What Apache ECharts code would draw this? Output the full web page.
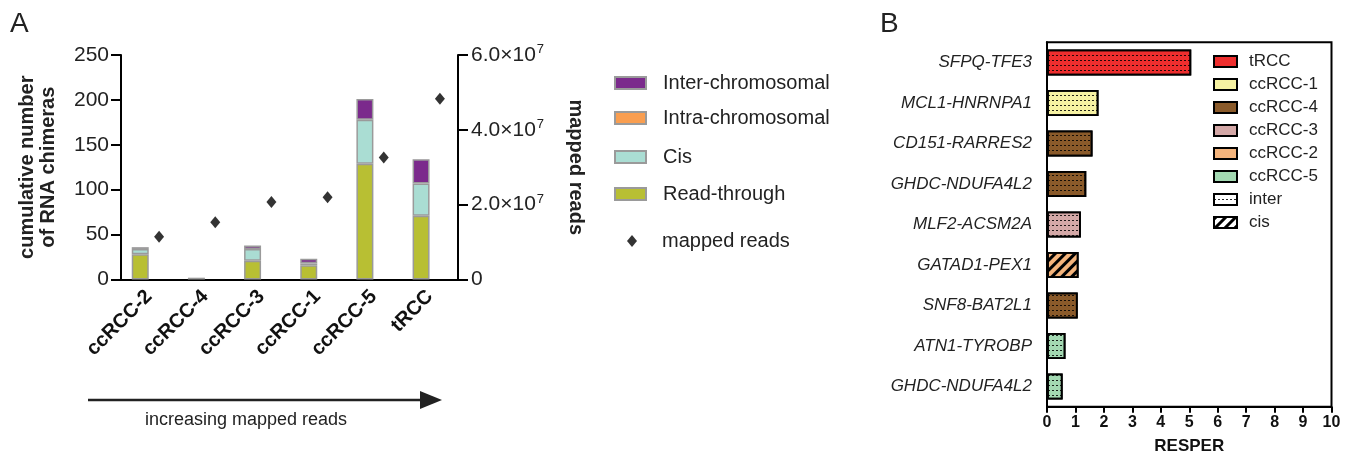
<!DOCTYPE html>
<html>
<head>
<meta charset="utf-8">
<script src="https://cdn.jsdelivr.net/npm/echarts@6/dist/echarts.min.js"></script>
<style>html,body{margin:0;padding:0;background:#fff}#c{width:1346px;height:452px}</style>
</head>
<body>
<div id="c"></div>
<script>
// ---------- Panel A data ----------
const samplesA = ['ccRCC-2', 'ccRCC-4', 'ccRCC-3', 'ccRCC-1', 'ccRCC-5', 'tRCC'];
const readThrough = [28, 0, 21, 16, 129, 71];
const cisA = [6, 2, 13, 2, 49, 36];
const intraA = [0, 0, 0, 0, 0, 0];
const interA = [2, 0, 4, 5, 23, 27];
const mappedReads = [1.14e7, 1.53e7, 2.07e7, 2.20e7, 3.26e7, 4.83e7];
const leftTicks = [0, 50, 100, 150, 200, 250];
const rightTickMantissa = ['0', '2.0', '4.0', '6.0'];

// ---------- Panel B data ----------
const genes = ['SFPQ-TFE3', 'MCL1-HNRNPA1', 'CD151-RARRES2', 'GHDC-NDUFA4L2', 'MLF2-ACSM2A',
  'GATAD1-PEX1', 'SNF8-BAT2L1', 'ATN1-TYROBP', 'GHDC-NDUFA4L2'];
const resper = [5.07, 1.81, 1.60, 1.38, 1.19, 1.11, 1.08, 0.65, 0.55];
const geneSample = ['tRCC', 'ccRCC-1', 'ccRCC-4', 'ccRCC-4', 'ccRCC-3', 'ccRCC-2', 'ccRCC-4', 'ccRCC-5', 'ccRCC-5'];
const geneType = ['inter', 'inter', 'inter', 'inter', 'inter', 'cis', 'inter', 'inter', 'inter'];
const samplesB = ['tRCC', 'ccRCC-1', 'ccRCC-4', 'ccRCC-3', 'ccRCC-2', 'ccRCC-5'];
const typesB = ['inter', 'cis'];
const resperTicks = [0, 1, 2, 3, 4, 5, 6, 7, 8, 9, 10];

// ---------- styles ----------
const FONT = 'Liberation Sans, Arial, sans-serif';
const colA = { 'Inter-chromosomal': '#7B2A8C', 'Intra-chromosomal': '#F99E50', 'Cis': '#AADDD3', 'Read-through': '#B8BF33' };
const colB = { 'tRCC': '#EE2E2E', 'ccRCC-1': '#F6F2A2', 'ccRCC-4': '#8A5A2A', 'ccRCC-3': '#D4A8A7', 'ccRCC-2': '#F4B47C', 'ccRCC-5': '#A3D9B2' };
const decals = {
  inter: { symbol: 'rect', symbolSize: 1, dashArrayX: [2, 2], dashArrayY: [1, 4], color: 'rgba(0,0,0,0.85)', backgroundColor: null },
  cis: { symbol: 'rect', symbolSize: 1, dashArrayX: [1, 0], dashArrayY: [3, 4], rotation: -Math.PI / 4, color: '#000', backgroundColor: null }
};
const nz = a => a.map(v => (v === 0 ? null : v));

const chart = echarts.init(document.getElementById('c'), null, { renderer: 'canvas' });

const stackDefsA = [
  ['Read-through', readThrough],
  ['Cis', cisA],
  ['Intra-chromosomal', intraA],
  ['Inter-chromosomal', interA]
];

const seriesA = stackDefsA.map(([name, arr]) => ({
  name, type: 'bar', stack: 'chimeras', xAxisIndex: 0, yAxisIndex: 0,
  barWidth: 17, barGap: '4%',
  itemStyle: { color: colA[name], borderColor: '#9A9A9A', borderWidth: 1.5 },
  data: nz(arr)
}));
// empty companion slot so the stacks sit left of the tick, as in the figure
seriesA.push({ name: '_slot', type: 'bar', stack: 'slot', xAxisIndex: 0, yAxisIndex: 0, barWidth: 17, data: samplesA.map(() => null) });
seriesA.push({
  name: 'mapped reads', type: 'scatter', xAxisIndex: 0, yAxisIndex: 1,
  symbol: 'diamond', symbolSize: [10, 12], symbolOffset: [10, 0],
  itemStyle: { color: '#000' }, data: mappedReads
});

const seriesB = samplesB.map(s => ({
  name: s, type: 'bar', stack: 'resper', xAxisIndex: 1, yAxisIndex: 2, barWidth: 26,
  itemStyle: { color: colB[s], borderColor: '#000', borderWidth: 1.8 },
  data: resper.map((v, i) => geneSample[i] === s
    ? { value: v, itemStyle: { decal: decals[geneType[i]] } } : null)
}));
typesB.forEach(t => seriesB.push({
  name: t, type: 'bar', stack: 'resper', xAxisIndex: 1, yAxisIndex: 2, barWidth: 26,
  itemStyle: { color: '#fff', borderColor: '#000', borderWidth: 1.8, decal: decals[t] },
  data: genes.map(() => null)
}));

const legA = (name, top, extra) => Object.assign({
  orient: 'vertical', left: 614, top: top, data: [name], padding: 0,
  itemWidth: 31, itemHeight: 12, icon: 'rect', selectedMode: false,
  textStyle: { fontFamily: FONT, fontSize: 20, color: '#222', lineHeight: 22, padding: [0, 0, 0, 12] }
}, extra || {});

const option = {
  animation: false,
  backgroundColor: '#fff',
  grid: [
    { left: 121, right: 888, top: 55, bottom: 172.5, outerBoundsMode: 'none', containLabel: false },
    { left: 1047, right: 14.5, top: 42.3, bottom: 45.3, outerBoundsMode: 'none', containLabel: false,
      show: true, borderColor: '#000', borderWidth: 2 }
  ],
  xAxis: [
    {
      type: 'category', gridIndex: 0, data: samplesA, boundaryGap: true,
      axisLine: { lineStyle: { color: '#000', width: 2 } },
      axisTick: { alignWithLabel: true, length: 8, lineStyle: { width: 2, color: '#000' } },
      axisLabel: { rotate: 45, margin: 14, color: '#111', fontFamily: FONT, fontWeight: 'bold', fontSize: 20, interval: 0 }
    },
    {
      type: 'value', gridIndex: 1, min: resperTicks[0], max: resperTicks[resperTicks.length - 1], interval: 1,
      splitLine: { show: false },
      axisLine: { show: true, lineStyle: { color: '#000', width: 2 } },
      axisTick: { show: true, length: 6, lineStyle: { width: 2, color: '#000' } },
      axisLabel: { margin: 8, color: '#111', fontFamily: FONT, fontWeight: 'bold', fontSize: 16 },
      name: 'RESPER', nameLocation: 'middle', nameGap: 31,
      nameTextStyle: { fontFamily: FONT, fontWeight: 'bold', fontSize: 17, color: '#111' }
    }
  ],
  yAxis: [
    {
      type: 'value', gridIndex: 0, min: leftTicks[0], max: leftTicks[leftTicks.length - 1], interval: 50,
      splitLine: { show: false },
      axisLine: { show: true, lineStyle: { color: '#000', width: 2 } },
      axisTick: { show: true, length: 10, lineStyle: { width: 2, color: '#000' } },
      axisLabel: { margin: 12, color: '#222', fontFamily: FONT, fontSize: 21 },
      name: 'cumulative number\nof RNA chimeras', nameLocation: 'middle', nameGap: 62, nameRotate: 90,
      nameTextStyle: { fontFamily: FONT, fontWeight: 'bold', fontSize: 20, lineHeight: 21, color: '#222' }
    },
    {
      type: 'value', gridIndex: 0, position: 'right', min: 0, max: 6e7, interval: 2e7,
      splitLine: { show: false },
      axisLine: { show: true, lineStyle: { color: '#000', width: 2 } },
      axisTick: { show: true, length: 10, lineStyle: { width: 2, color: '#000' } },
      axisLabel: {
        margin: 13, color: '#222', fontFamily: FONT, fontSize: 21,
        formatter: v => {
          const i = Math.round(v / 2e7);
          return i === 0 ? '{a|0}' : '{a|' + rightTickMantissa[i] + '×10}{s|7}';
        },
        rich: {
          a: { fontFamily: FONT, fontSize: 21, color: '#222', lineHeight: 24 },
          s: { fontFamily: FONT, fontSize: 13, color: '#222', lineHeight: 24, verticalAlign: 'top', padding: [0, 0, 8, 1] }
        }
      },
      name: 'mapped reads', nameLocation: 'middle', nameGap: 108, nameRotate: -90,
      nameTextStyle: { fontFamily: FONT, fontWeight: 'bold', fontSize: 20, color: '#222' }
    },
    {
      type: 'category', gridIndex: 1, data: genes, inverse: true,
      axisLine: { lineStyle: { color: '#000', width: 2 } },
      axisTick: { alignWithLabel: true, length: 10, lineStyle: { width: 2, color: '#000' } },
      axisLabel: { margin: 15, color: '#222', fontFamily: FONT, fontStyle: 'italic', fontSize: 17, interval: 0 }
    }
  ],
  legend: [
    legA('Inter-chromosomal', 72),
    legA('Intra-chromosomal', 107),
    legA('Cis', 146),
    legA('Read-through', 183),
    legA('mapped reads', 230, { left: 627, itemWidth: 10, itemHeight: 12, icon: 'diamond',
      textStyle: { fontFamily: FONT, fontSize: 20, color: '#222', lineHeight: 22, padding: [0, 0, 0, 20] } }),
    {
      orient: 'vertical', left: 1213, top: 53, data: samplesB.concat(typesB), padding: 0,
      itemWidth: 23, itemHeight: 11, itemGap: 6, icon: 'rect', selectedMode: false,
      textStyle: { fontFamily: FONT, fontSize: 17, color: '#222', lineHeight: 17, padding: [0, 0, 0, 7] }
    }
  ],
  graphic: [
    { type: 'text', left: 10, top: 10, style: { text: 'A', fontFamily: FONT, fontSize: 28, fill: '#222' } },
    { type: 'text', left: 880, top: 10, style: { text: 'B', fontFamily: FONT, fontSize: 28, fill: '#222' } },
    { type: 'line', shape: { x1: 88, y1: 400, x2: 424, y2: 400 }, style: { stroke: '#222', lineWidth: 2.5 } },
    { type: 'polygon', shape: { points: [[420, 391], [442, 400], [420, 409]] }, style: { fill: '#222' } },
    { type: 'text', x: 246, y: 420, style: { text: 'increasing mapped reads', fontFamily: FONT, fontSize: 18, fill: '#222', align: 'center', verticalAlign: 'middle' } }
  ],
  series: seriesA.concat(seriesB)
};
chart.setOption(option);
</script>
</body>
</html>
